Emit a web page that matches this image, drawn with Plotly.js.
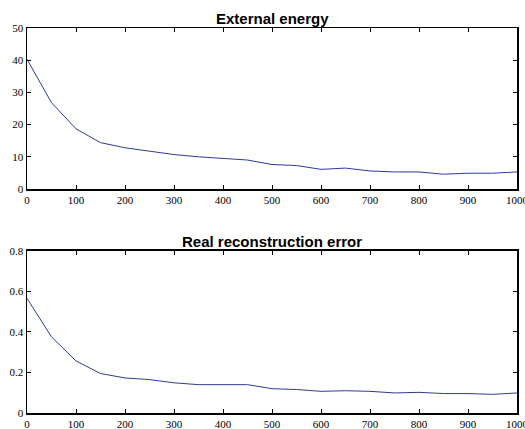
<!DOCTYPE html>
<html>
<head>
<meta charset="utf-8">
<script src="https://cdn.plot.ly/plotly-3.0.1.min.js"></script>
<style>html,body{margin:0;padding:0;background:#fff;}#chart{width:525px;height:429px;}</style>
</head>
<body>
<div id="chart"></div>
<script>
var iterations = [0,50,100,150,200,250,300,350,400,450,500,550,600,650,700,750,800,850,900,950,1000];
var externalEnergy = [40.3,26.8,18.7,14.4,12.8,11.8,10.7,10.0,9.5,9.0,7.6,7.3,6.1,6.5,5.6,5.3,5.3,4.6,4.9,4.9,5.3];
var reconError = [0.566,0.376,0.257,0.195,0.173,0.165,0.149,0.14,0.14,0.14,0.12,0.116,0.107,0.11,0.107,0.099,0.102,0.096,0.096,0.092,0.099];
var titles = ["External energy", "Real reconstruction error"];

var lineColor = '#2b3c9c';
var traces = [
  {x: iterations, y: externalEnergy, type: 'scatter', mode: 'lines', line: {color: lineColor, width: 1}, xaxis: 'x', yaxis: 'y', hoverinfo: 'skip'},
  {x: iterations, y: reconError, type: 'scatter', mode: 'lines', line: {color: lineColor, width: 1}, xaxis: 'x2', yaxis: 'y2', hoverinfo: 'skip'}
];
var tickFont = {family: 'Liberation Serif', size: 11, color: '#000'};
function xax(anchor) {
  return {anchor: anchor, range: [0, 1000], dtick: 100, tick0: 0, ticks: 'inside', ticklen: 4, tickcolor: '#000',
    showline: true, linecolor: '#000', linewidth: 1.5, mirror: 'ticks', showgrid: false, zeroline: false,
    tickfont: tickFont, domain: [0, 1], ticklabeloverflow: 'allow'};
}
function yax(anchor, range, dtick, domain) {
  return {anchor: anchor, range: range, dtick: dtick, tick0: 0, ticks: 'inside', ticklen: 4, tickcolor: '#000',
    showline: true, linecolor: '#000', linewidth: 1.5, mirror: 'ticks', showgrid: false, zeroline: false,
    tickfont: tickFont, domain: domain, ticklabeloverflow: 'allow'};
}
var titleFont = {family: 'Liberation Sans', size: 15, color: '#000'};
var layout = {
  width: 525, height: 429,
  margin: {l: 27, r: 8, t: 28, b: 16},
  paper_bgcolor: '#fff', plot_bgcolor: '#fff',
  showlegend: false,
  xaxis: xax('y'),
  yaxis: yax('x', [0, 50], 10, [0.5818, 1]),
  xaxis2: xax('y2'),
  yaxis2: yax('x2', [0, 0.8], 0.2, [0, 0.4208]),
  annotations: [
    {text: '<b>' + titles[0] + '</b>', xref: 'x domain', yref: 'y domain', x: 0.5, y: 1, xanchor: 'center', yanchor: 'bottom', yshift: -1, showarrow: false, font: titleFont},
    {text: '<b>' + titles[1] + '</b>', xref: 'x2 domain', yref: 'y2 domain', x: 0.5, y: 1, xanchor: 'center', yanchor: 'bottom', yshift: -1, showarrow: false, font: titleFont}
  ]
};
Plotly.newPlot('chart', traces, layout, {displayModeBar: false, staticPlot: true});
</script>
</body>
</html>
